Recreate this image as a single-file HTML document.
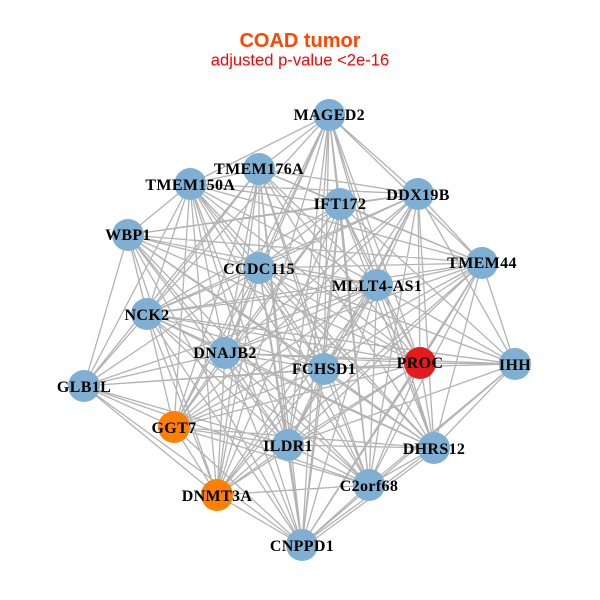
<!DOCTYPE html>
<html><head><meta charset="utf-8"><style>html,body{margin:0;padding:0;background:#fff}svg{display:block}
.n text{font-family:"Liberation Serif",serif;font-weight:bold;font-size:16px;letter-spacing:.35px;text-anchor:middle;fill:#000}</style></head><body>
<svg width="600" height="600" viewBox="0 0 600 600" xmlns="http://www.w3.org/2000/svg">
<rect width="600" height="600" fill="#fff"/>
<text x="300" y="47" text-anchor="middle" font-family="Liberation Sans, sans-serif" font-weight="bold" font-size="20" fill="#ff4500">COAD tumor</text>
<text x="300" y="65.5" text-anchor="middle" font-family="Liberation Sans, sans-serif" font-size="16.6" fill="#ff0000">adjusted p-value &lt;2e-16</text>
<path fill="none" stroke="#b3b3b3" stroke-width="1.3" d="
M329 115L190 184M329 115L259 169M329 115L340 204M329 115L418 194M329 115L259 268M329 115L482 263M329 115L377 285M329 115L147 314M329 115L225 353M329 115L324 369M329 115L420 363M329 115L174 427M329 115L288 445M329 115L434 448M329 115L369 485M329 115L217 495M329 115L302 545
M259 169L190 184M259 169L340 204M259 169L418 194M259 169L259 268M259 169L377 285M259 169L147 314M259 169L225 353M259 169L324 369M259 169L420 363M259 169L84 386M259 169L174 427M259 169L288 445M259 169L434 448M259 169L369 485M259 169L217 495M259 169L482 263M259 169L302 545
M190 184L128 235M190 184L340 204M190 184L418 194M190 184L259 268M190 184L482 263M190 184L377 285M190 184L147 314M190 184L225 353M190 184L324 369M190 184L420 363M190 184L84 386M190 184L174 427M190 184L288 445M190 184L434 448M190 184L217 495M190 184L369 485M190 184L302 545
M340 204L418 194M340 204L128 235M340 204L259 268M340 204L482 263M340 204L377 285M340 204L225 353M340 204L324 369M340 204L420 363M340 204L515 364M340 204L288 445M340 204L434 448M340 204L369 485M340 204L217 495M340 204L302 545M340 204L147 314M340 204L174 427
M418 194L482 263M418 194L377 285M418 194L259 268M418 194L128 235M418 194L147 314M418 194L225 353M418 194L324 369M418 194L420 363M418 194L515 364M418 194L174 427M418 194L288 445M418 194L434 448M418 194L369 485M418 194L217 495
M128 235L259 268M128 235L377 285M128 235L147 314M128 235L225 353M128 235L324 369M128 235L420 363M128 235L84 386M128 235L174 427M128 235L288 445M128 235L369 485M128 235L217 495M128 235L482 263M128 235L434 448M128 235L302 545
M259 268L482 263M259 268L377 285M259 268L147 314M259 268L225 353M259 268L324 369M259 268L420 363M259 268L515 364M259 268L84 386M259 268L174 427M259 268L288 445M259 268L434 448M259 268L369 485M259 268L217 495M259 268L302 545
M482 263L377 285M482 263L147 314M482 263L225 353M482 263L324 369M482 263L420 363M482 263L515 364M482 263L174 427M482 263L288 445M482 263L434 448M482 263L369 485M482 263L217 495M482 263L302 545
M377 285L147 314M377 285L225 353M377 285L324 369M377 285L420 363M377 285L515 364M377 285L84 386M377 285L174 427M377 285L288 445M377 285L434 448M377 285L369 485M377 285L217 495M377 285L302 545
M147 314L225 353M147 314L324 369M147 314L420 363M147 314L515 364M147 314L84 386M147 314L174 427M147 314L288 445M147 314L434 448M147 314L369 485M147 314L217 495M147 314L302 545
M225 353L324 369M225 353L420 363M225 353L515 364M225 353L84 386M225 353L174 427M225 353L288 445M225 353L434 448M225 353L369 485M225 353L217 495M225 353L302 545
M324 369L420 363M324 369L515 364M324 369L84 386M324 369L174 427M324 369L288 445M324 369L434 448M324 369L369 485M324 369L217 495M324 369L302 545
M420 363L515 364M420 363L84 386M420 363L174 427M420 363L288 445M420 363L434 448M420 363L369 485M420 363L217 495M420 363L302 545
M515 364L434 448M515 364L369 485M515 364L288 445M515 364L302 545
M84 386L174 427M84 386L288 445M84 386L217 495M84 386L302 545M84 386L369 485
M174 427L288 445M174 427L434 448M174 427L369 485M174 427L217 495M174 427L302 545
M288 445L434 448M288 445L369 485M288 445L217 495M288 445L302 545
M434 448L369 485M434 448L302 545M436 450L304 547
M369 485L302 545M369 485L217 495
M217 495L302 545"/>
<g fill="#7fb0d3">
<circle cx="329.3" cy="115" r="16"/><circle cx="259" cy="169" r="16"/><circle cx="190.3" cy="184" r="16"/><circle cx="340" cy="204" r="16"/><circle cx="418" cy="194" r="16"/><circle cx="128" cy="235" r="16"/><circle cx="259" cy="268" r="16"/><circle cx="482" cy="263" r="16"/><circle cx="377" cy="285" r="16"/><circle cx="147" cy="314" r="16"/><circle cx="225" cy="353" r="16"/><circle cx="324" cy="369" r="16"/><circle cx="515" cy="364" r="16"/><circle cx="84" cy="386" r="16"/><circle cx="288" cy="445" r="16"/><circle cx="434" cy="448" r="16"/><circle cx="369" cy="485" r="16"/><circle cx="302" cy="545" r="16"/>
</g>
<circle cx="420" cy="363" r="16" fill="#e41a1c"/>
<circle cx="174" cy="427" r="16" fill="#ff7f00"/>
<circle cx="217" cy="495" r="16" fill="#ff7f00"/>
<g class="n">
<text x="329.3" y="120">MAGED2</text><text x="259" y="174">TMEM176A</text><text x="190.3" y="190">TMEM150A</text><text x="340" y="209">IFT172</text><text x="418" y="200">DDX19B</text><text x="128" y="240">WBP1</text><text x="259" y="274">CCDC115</text><text x="482" y="268">TMEM44</text><text x="377" y="291">MLLT4-AS1</text><text x="147" y="320">NCK2</text><text x="225" y="358">DNAJB2</text><text x="324" y="374">FCHSD1</text><text x="420" y="368">PROC</text><text x="515" y="370">IHH</text><text x="84" y="392">GLB1L</text><text x="174" y="433">GGT7</text><text x="288" y="451">ILDR1</text><text x="434" y="454">DHRS12</text><text x="369" y="491">C2orf68</text><text x="217" y="501">DNMT3A</text><text x="302" y="551">CNPPD1</text>
</g>
</svg>
</body></html>
